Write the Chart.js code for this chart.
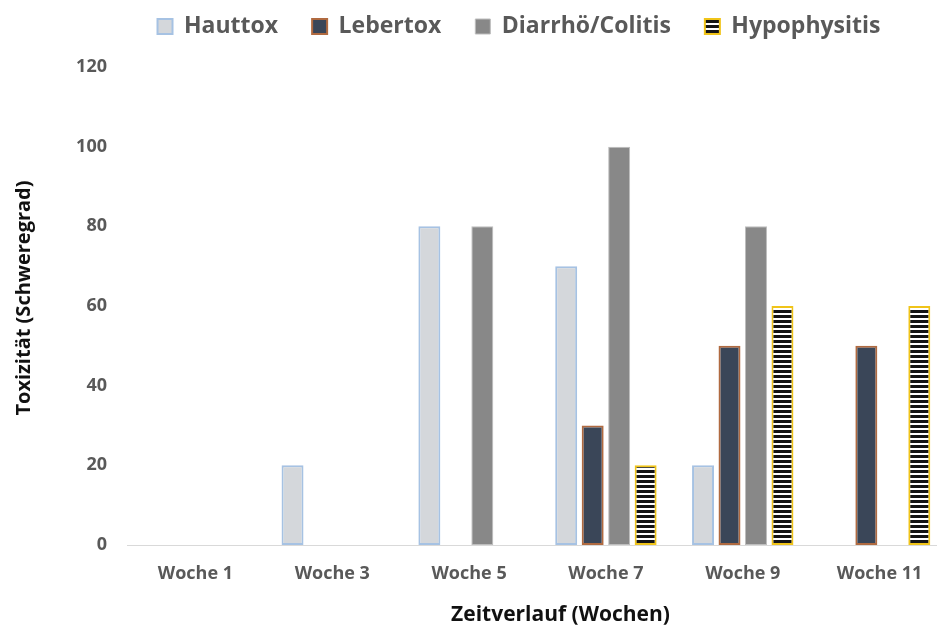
<!DOCTYPE html>
<html>
<head>
<meta charset="utf-8">
<script src="https://cdn.jsdelivr.net/npm/chart.js@4.4.1/dist/chart.umd.min.js"></script>
<style>
  html, body { margin: 0; padding: 0; background: #ffffff; overflow: hidden; }
  #wrap { width: 948px; height: 631px; }
</style>
</head>
<body>
<div id="wrap"><canvas id="c" width="948" height="631"></canvas></div>
<script>
// ---- data ----
const categories = ["Woche 1", "Woche 3", "Woche 5", "Woche 7", "Woche 9", "Woche 11"];
const seriesNames = ["Hauttox", "Lebertox", "Diarrhö/Colitis", "Hypophysitis"];
const hauttox   = [0, 20, 80, 70, 20, 0];
const lebertox  = [0, 0, 0, 30, 50, 50];
const diarrhoe  = [0, 0, 80, 100, 80, 0];
const hypophys  = [0, 0, 0, 20, 60, 60];
const yTicks = [0, 20, 40, 60, 80, 100, 120];
const xTitle = "Zeitverlauf (Wochen)";
const yTitle = "Toxizität (Schweregrad)";

// ---- stripe pattern for Hypophysitis ----
function stripePattern() {
  const pc = document.createElement('canvas');
  pc.width = 4; pc.height = 5;
  const g = pc.getContext('2d');
  g.fillStyle = '#ffffff'; g.fillRect(0, 0, 4, 5);
  g.fillStyle = '#141414'; g.fillRect(0, 0, 4, 3);
  return g.createPattern(pc, 'repeat');
}

const FONT = "'Open Sans', 'DejaVu Sans', sans-serif";

// shifts the legend box as a whole (layout only)
const legendShift = {
  id: 'legendShift',
  afterLayout(chart, args, opts) {
    const lg = chart.legend;
    if (!lg) return;
    lg.left += opts.dx; lg.right += opts.dx;
    lg.top += opts.dy; lg.bottom += opts.dy;
  }
};

// offsets an axis title along its axis (layout only)
function shiftTitle(scale, horizontal, d) {
  if (scale._titleShifted) return;
  scale._titleShifted = true;
  const orig = scale.drawTitle;
  scale.drawTitle = function () {
    if (horizontal) {
      const l = this.left, r = this.right;
      this.left += d; this.right += d;
      orig.call(this);
      this.left = l; this.right = r;
    } else {
      const t = this.top, b = this.bottom;
      this.top += d; this.bottom += d;
      orig.call(this);
      this.top = t; this.bottom = b;
    }
  };
}

new Chart(document.getElementById('c'), {
  type: 'bar',
  data: {
    labels: categories,
    datasets: [
      { label: seriesNames[0], data: hauttox,  backgroundColor: '#d4d7db', borderColor: '#a6c2e3', borderWidth: 2, borderSkipped: false },
      { label: seriesNames[1], data: lebertox, backgroundColor: '#3a4658', borderColor: '#b06a40', borderWidth: 2, borderSkipped: false },
      { label: seriesNames[2], data: diarrhoe, backgroundColor: '#888888', borderColor: '#bdbdbd', borderWidth: 1, borderSkipped: false },
      { label: seriesNames[3], data: hypophys, backgroundColor: stripePattern(), borderColor: '#f0c419', borderWidth: 2, borderSkipped: false }
    ]
  },
  options: {
    responsive: false,
    animation: false,
    devicePixelRatio: 1,
    categoryPercentage: 0.774,
    barPercentage: 0.83,
    layout: { padding: { top: 0, left: 0, right: 0, bottom: 0 } },
    plugins: {
      legendShift: { dx: 45, dy: -19 },
      tooltip: { enabled: false },
      legend: {
        position: 'top',
        labels: {
          boxWidth: 15, boxHeight: 15, padding: 34,
          color: '#595959',
          font: { family: FONT, size: 23, weight: 'bold' }
        }
      }
    },
    scales: {
      x: {
        grid: { display: false, drawTicks: false },
        border: { display: true, color: '#d9d9d9', width: 1 },
        ticks: { color: '#595959', padding: 18, font: { family: FONT, size: 18, weight: 'bold' } },
        title: { display: true, text: xTitle, color: '#111111', padding: { top: 0, bottom: 3 }, font: { family: FONT, size: 21, weight: 'bold' } },
        afterFit(scale) { scale.height = 86; },
        afterUpdate(scale) { shiftTitle(scale, true, 23); }
      },
      y: {
        min: 0, max: 120,
        afterBuildTicks(scale) { scale.ticks = yTicks.map(v => ({ value: v })); },
        grid: { display: false, drawTicks: false },
        border: { display: false },
        ticks: { color: '#595959', padding: 20, font: { family: FONT, size: 18, weight: 'bold' } },
        title: { display: true, text: yTitle, color: '#111111', padding: { top: 12, bottom: 0 }, font: { family: FONT, size: 20, weight: 'bold' } },
        afterFit(scale) { scale.width = 127; },
        afterUpdate(scale) { shiftTitle(scale, false, -8); }
      }
    }
  },
  plugins: [legendShift]
});
</script>
</body>
</html>
